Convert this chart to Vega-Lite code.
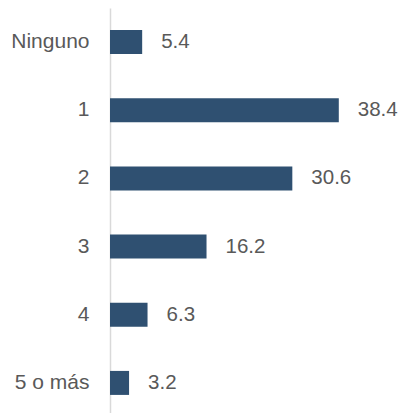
{
  "$schema": "https://vega.github.io/schema/vega-lite/v6.json",
  "width": 286,
  "height": 409,
  "autosize": {"type": "none"},
  "padding": {"left": 110, "top": 8, "right": 5, "bottom": 0},
  "background": "white",
  "config": {"view": {"stroke": null}, "font": "Liberation Sans"},
  "data": {
    "values": [
      {"cat": "Ninguno", "v": 5.4},
      {"cat": "1", "v": 38.4},
      {"cat": "2", "v": 30.6},
      {"cat": "3", "v": 16.2},
      {"cat": "4", "v": 6.3},
      {"cat": "5 o más", "v": 3.2}
    ]
  },
  "encoding": {
    "y": {
      "field": "cat",
      "type": "nominal",
      "sort": null,
      "scale": {"paddingInner": 0.648, "paddingOuter": 0.324},
      "axis": {
        "title": null,
        "ticks": false,
        "domainColor": "#d9d9d9",
        "domainWidth": 1.5,
        "labelFontSize": 21,
        "labelColor": "#595959",
        "labelPadding": 21,
        "labelFont": "Liberation Sans"
      }
    },
    "x": {
      "field": "v",
      "type": "quantitative",
      "scale": {"domain": [0, 48]},
      "axis": null
    }
  },
  "layer": [
    {"mark": {"type": "bar", "color": "#2f5071"}},
    {
      "mark": {"type": "text", "align": "left", "dx": 19, "fontSize": 20.5, "color": "#595959", "font": "Liberation Sans"},
      "encoding": {"text": {"field": "v", "type": "quantitative", "format": ".1f"}}
    }
  ]
}
